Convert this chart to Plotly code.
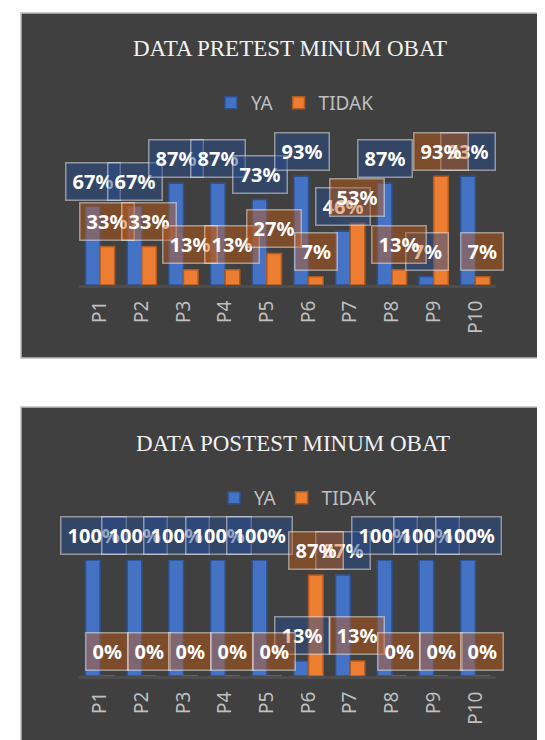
import plotly.graph_objects as go

categories = ["P1", "P2", "P3", "P4", "P5", "P6", "P7", "P8", "P9", "P10"]
pre_ya = [67, 67, 87, 87, 73, 93, 46, 87, 7, 93]
pre_tidak = [33, 33, 13, 13, 27, 7, 53, 13, 93, 7]
post_ya = [100, 100, 100, 100, 100, 13, 87, 100, 100, 100]
post_tidak = [0, 0, 0, 0, 0, 87, 13, 0, 0, 0]

W, H = 545, 740
BLUE, BLUE_D = "#4472C4", "#2F528F"
ORANGE, ORANGE_D = "#ED7D31", "#AE5A21"
PANEL = "#404040"
GRAY_TXT = "#BFBFBF"

fig = go.Figure()

def py(px):
    return 1 - px / H

x_dom = [71.2 / W, 488.2 / W]

# top chart traces
fig.add_trace(go.Bar(x=categories, y=pre_ya, name="YA", marker=dict(color=BLUE, line=dict(color=BLUE_D, width=1.5)),
                     xaxis="x", yaxis="y", legend="legend"))
fig.add_trace(go.Bar(x=categories, y=pre_tidak, name="TIDAK", marker=dict(color=ORANGE, line=dict(color=ORANGE_D, width=1.5)),
                     xaxis="x", yaxis="y", legend="legend"))
# bottom chart traces
fig.add_trace(go.Bar(x=categories, y=post_ya, name="YA", marker=dict(color=BLUE, line=dict(color=BLUE_D, width=1.5)),
                     xaxis="x2", yaxis="y2", legend="legend2"))
fig.add_trace(go.Bar(x=categories, y=post_tidak, name="TIDAK", marker=dict(color=ORANGE, line=dict(color=ORANGE_D, width=1.5)),
                     xaxis="x2", yaxis="y2", legend="legend2"))

annotations = []

def add_labels(values, xref, yref, shift, fill):
    for c, v in zip(categories, values):
        annotations.append(dict(
            x=c, y=v, xref=xref, yref=yref, xshift=shift, yshift=25,
            text=f"{v}%", showarrow=False, xanchor="center", yanchor="middle",
            font=dict(family="Noto Sans", size=20, color="white", weight=700),
            bgcolor=fill, bordercolor="rgba(255,255,255,0.45)", borderwidth=1.5,
            borderpad=6, height=24,
        ))

BLUE_BOX = "rgba(40,75,140,0.5)"
ORANGE_BOX = "rgba(197,90,17,0.45)"
add_labels(pre_ya, "x", "y", -7, BLUE_BOX)
add_labels(pre_tidak, "x", "y", 7, ORANGE_BOX)
add_labels(post_ya, "x2", "y2", -7, BLUE_BOX)
add_labels(post_tidak, "x2", "y2", 7, ORANGE_BOX)

title_font = dict(family="Liberation Serif", size=23, color="#F2F2F2")
annotations.append(dict(text="DATA PRETEST MINUM OBAT", x=282 / W, y=py(40), xref="paper", yref="paper",
                        showarrow=False, xanchor="center", yanchor="middle", font=title_font))
annotations.append(dict(text="DATA POSTEST MINUM OBAT", x=285 / W, y=py(435), xref="paper", yref="paper",
                        showarrow=False, xanchor="center", yanchor="middle", font=title_font))

shapes = [
    dict(type="rect", xref="paper", yref="paper", x0=13 / W, x1=1.02, y0=py(350), y1=py(5),
         fillcolor=PANEL, line=dict(color="#BFBFBF", width=1.5), layer="below"),
    dict(type="rect", xref="paper", yref="paper", x0=13 / W, x1=1.02, y0=-0.02, y1=py(399),
         fillcolor=PANEL, line=dict(color="#BFBFBF", width=1.5), layer="below"),
]

xaxis_common = dict(
    domain=x_dom, showgrid=False, zeroline=False, showline=True, linecolor="#4D4D4D", linewidth=3,
    tickangle=-90, tickfont=dict(family="Noto Sans", size=19, color=GRAY_TXT),
    ticks="", ticklabelstandoff=5, range=[-0.5, 9.5],
)
yaxis_common = dict(showgrid=False, zeroline=False, showticklabels=False, range=[0, 100], fixedrange=True)

legend_common = dict(orientation="h", xanchor="center", yanchor="middle", bgcolor="rgba(0,0,0,0)",
                     font=dict(family="Noto Sans", size=19, color=GRAY_TXT), itemwidth=30, tracegroupgap=0)

fig.update_layout(
    width=W, height=H, margin=dict(l=0, r=0, t=0, b=0),
    paper_bgcolor="white", plot_bgcolor="rgba(0,0,0,0)",
    barmode="group", bargap=0.3, bargroupgap=0.0,
    xaxis=dict(**xaxis_common, anchor="y"),
    yaxis=dict(**yaxis_common, domain=[py(277), py(160)], anchor="x"),
    xaxis2=dict(**xaxis_common, anchor="y2"),
    yaxis2=dict(**yaxis_common, domain=[py(668), py(552)], anchor="x2"),
    legend=dict(**legend_common, x=287 / W, y=py(95)),
    legend2=dict(**legend_common, x=290 / W, y=py(490)),
    annotations=annotations, shapes=shapes, showlegend=True,
)

fig.write_html("out.html")
